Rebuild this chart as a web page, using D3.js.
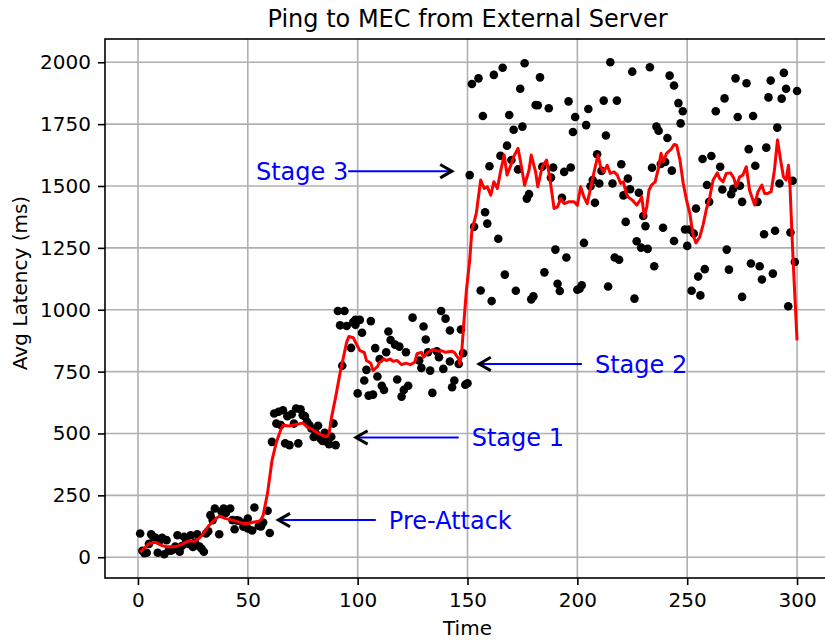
<!DOCTYPE html>
<html>
<head>
<meta charset="utf-8">
<script src="https://cdn.jsdelivr.net/npm/d3@7"></script>
<style>
  body { margin: 0; background: #fff; }
  svg { font-family: "DejaVu Sans", sans-serif; }
</style>
</head>
<body>
<div id="chart"></div>
<script>
// ping samples [time, avg latency ms]
const preAttack = [[1,96],[2,26],[3,16],[4,18],[5,54],[6,93],[7,82],[8,78],[9,18],[10,69],[11,78],[12,12],[13,69],[14,27],[15,26],[16,31],[17,43],[18,89],[19,22],[20,45],[21,82],[22,62],[23,54],[24,89],[25,41],[26,59],[27,93],[28,43],[29,34],[30,22],[31,96],[32,105],[33,170],[34,150],[35,197],[37,93],[38,185],[39,197],[40,179],[42,197],[43,150],[44,113],[45,149],[46,147],[48,123],[49,139],[50,156],[50,116],[52,108],[53,201],[55,126],[56,124],[57,140],[59,188],[60,98]];
const stage1 = [[61,466],[62,581],[63,540],[64,588],[65,534],[66,594],[67,460],[68,570],[69,453],[70,578],[71,540],[72,601],[73,460],[74,598],[75,574],[76,570],[77,547],[78,534],[79,520],[80,486],[81,500],[82,531],[83,480],[84,470],[85,503],[86,466],[87,457],[88,487],[89,540],[90,453]];
const stage2 = [[91,995],[92,937],[93,774],[94,995],[95,934],[97,846],[98,950],[99,939],[99,959],[100,662],[101,959],[102,907],[103,714],[104,757],[105,653],[106,954],[107,657],[108,845],[109,730],[110,801],[111,693],[112,676],[113,828],[114,912],[115,878],[117,859],[118,718],[119,851],[120,649],[121,676],[122,828],[123,693],[125,968],[128,795],[129,765],[130,932],[131,880],[132,828],[133,754],[134,664],[136,832],[137,808],[138,995],[139,761],[140,964],[142,791],[142,916],[143,687],[144,714],[146,781],[147,920],[148,824],[149,697],[150,703]];
const stage3 = [[151,1544],[152,1912],[153,1335],[155,1935],[156,1078],[157,1783],[158,1394],[159,1348],[160,1580],[161,1035],[162,1949],[164,1287],[165,1622],[166,1978],[167,1142],[168,1663],[169,1787],[170,1605],[171,1727],[172,1077],[173,1567],[174,1893],[175,1740],[176,1996],[177,1449],[178,1467],[179,1042],[180,1054],[181,1827],[182,1826],[183,1939],[184,1578],[185,1151],[187,1814],[188,1534],[189,1575],[190,1243],[191,1105],[192,1076],[193,1452],[194,1557],[195,1211],[196,1842],[197,1575],[198,1718],[199,1779],[200,1081],[201,1085],[202,1099],[203,1270],[204,1746],[205,1811],[206,1499],[207,1524],[208,1432],[209,1628],[210,1510],[211,1561],[212,1845],[213,1704],[214,1094],[215,2000],[216,1510],[217,1211],[218,1845],[219,1202],[220,1588],[221,1462],[222,1355],[223,1530],[224,1487],[225,1962],[226,1045],[227,1277],[228,1473],[229,1251],[230,1379],[231,1338],[232,1246],[233,1980],[234,1574],[235,1176],[236,1740],[237,1723],[238,1589],[239,1331],[240,1597],[241,1694],[242,1946],[243,1562],[244,1906],[244,1278],[246,1835],[247,1753],[248,1802],[249,1324],[250,1258],[251,1324],[252,1077],[253,1308],[254,1409],[255,1134],[256,1058],[257,1609],[258,1164],[259,1504],[260,1436],[261,1621],[263,1802],[265,1578],[266,1486],[267,1854],[268,1243],[269,1162],[270,1467],[271,1489],[272,1935],[273,1779],[274,1501],[275,1436],[275,1052],[277,1915],[278,1649],[279,1187],[280,1783],[281,1582],[282,1436],[283,1176],[284,1122],[285,1305],[286,1655],[287,1858],[288,1926],[289,1146],[290,1319],[291,1736],[292,1510],[293,1853],[294,1957],[295,1893],[296,1014],[297,1312],[298,1521],[299,1193],[300,1884]];

// red smoothed latency line [time, ms]
const smoothed = [[1,20],[3,38],[5,55],[8,60],[11,47],[13,42],[17,42],[20,52],[23,66],[26,64],[28,78],[30,98],[32,125],[35,152],[37,166],[40,156],[43,150],[46,142],[48,136],[50,136],[53,142],[55,145],[56,152],[57,170],[59,260],[61,390],[63,465],[65,515],[66,533],[69,530],[71,534],[73,538],[75,543],[77,527],[79,518],[82,500],[84,492],[86,487],[87,500],[88,560],[90,648],[92,745],[95,869],[96,892],[98,887],[99,869],[101,835],[103,828],[104,795],[106,784],[107,754],[109,770],[110,788],[112,801],[113,795],[115,801],[116,792],[118,795],[120,778],[122,784],[124,778],[126,788],[127,822],[129,828],[130,808],[132,828],[134,838],[137,832],[138,835],[140,828],[143,832],[144,828],[146,801],[146.5,781],[147.3,822],[148.3,943],[149.5,1078],[151,1200],[152,1321],[154,1389],[156,1524],[157.6,1490],[159,1497],[160.6,1463],[162,1517],[163.6,1490],[165,1557],[166.7,1625],[168,1544],[169.7,1584],[171,1618],[173,1652],[174,1605],[176,1503],[178,1564],[179,1625],[181,1557],[182,1497],[184,1578],[186,1605],[187.4,1537],[189.4,1409],[191,1416],[192.4,1449],[194,1429],[196,1436],[198.5,1436],[200,1422],[201.5,1497],[203,1456],[204.5,1429],[206.8,1524],[208.3,1584],[209.4,1625],[210.6,1578],[212,1557],[213.6,1584],[215,1551],[216.7,1557],[218.2,1544],[219.7,1510],[221,1517],[222,1477],[223,1456],[225,1443],[227,1423],[228.6,1443],[229.3,1456],[230.5,1375],[231.6,1416],[232.6,1483],[233.8,1504],[235.4,1517],[236.9,1571],[238.1,1632],[239.1,1598],[240.6,1632],[242.6,1648],[244.1,1668],[245.2,1665],[246.7,1605],[248.2,1510],[249.7,1443],[251.2,1389],[252.7,1301],[254,1270],[255.7,1294],[257.2,1342],[258.8,1409],[260.3,1456],[261.8,1524],[263.7,1553],[264.8,1530],[266.3,1517],[267.8,1551],[269.8,1553],[271.3,1530],[272.3,1497],[273.9,1537],[275.3,1544],[276.9,1578],[278.4,1483],[280.7,1423],[282.2,1477],[284,1504],[285.2,1470],[286.7,1470],[288.2,1477],[289.7,1564],[291.1,1686],[292.4,1611],[293.8,1537],[295,1524],[296.1,1584],[296.8,1497],[298,1241],[299.1,1038],[300,876]];

const xTicks = [0, 50, 100, 150, 200, 250, 300];
const yTicks = [0, 250, 500, 750, 1000, 1250, 1500, 1750, 2000];

// annotation label + arrow tip, both in data units (text y = baseline)
const annotations = [
  { label: "Stage 3", tip: [142.9, 1560], text: [53.7, 1525] },
  { label: "Stage 2", tip: [155.3, 781], text: [208, 745] },
  { label: "Stage 1", tip: [99.2, 484], text: [151.9, 449] },
  { label: "Pre-Attack", tip: [63.9, 150], text: [114.2, 115] },
];

const width = 825, height = 640;
const plot = { left: 105, right: 830, top: 39, bottom: 578 };

const x = d3.scaleLinear().domain([-15, 315]).range([plot.left, plot.right]);
const y = d3.scaleLinear().domain([-84, 2094]).range([plot.bottom, plot.top]);

const svg = d3.select("#chart").append("svg")
  .attr("width", width)
  .attr("height", height);

// grid
const grid = svg.append("g").attr("stroke", "#b0b0b0").attr("stroke-width", 1.6);
grid.selectAll(".gx").data(xTicks).join("line")
  .attr("x1", d => x(d)).attr("x2", d => x(d))
  .attr("y1", plot.top).attr("y2", plot.bottom);
grid.selectAll(".gy").data(yTicks).join("line")
  .attr("x1", plot.left).attr("x2", plot.right)
  .attr("y1", d => y(d)).attr("y2", d => y(d));

// axes
const xAxis = svg.append("g")
  .attr("transform", `translate(0,${plot.bottom})`)
  .call(d3.axisBottom(x).tickValues(xTicks).tickFormat(d3.format("d"))
    .tickSize(7).tickPadding(8).tickSizeOuter(0));
const yAxis = svg.append("g")
  .attr("transform", `translate(${plot.left},0)`)
  .call(d3.axisLeft(y).tickValues(yTicks).tickFormat(d3.format("d"))
    .tickSize(7).tickPadding(7).tickSizeOuter(0));

[xAxis, yAxis].forEach(ax => {
  ax.select(".domain").remove();
  ax.attr("font-family", "DejaVu Sans").attr("font-size", 20);
  ax.selectAll("line").attr("stroke", "#000").attr("stroke-width", 1.6);
  ax.selectAll("text").attr("fill", "#000");
});

// frame
svg.append("rect")
  .attr("x", plot.left).attr("y", plot.top)
  .attr("width", plot.right - plot.left).attr("height", plot.bottom - plot.top)
  .attr("fill", "none").attr("stroke", "#000").attr("stroke-width", 1.6);

// scatter
const pings = preAttack.concat(stage1, stage2, stage3);
svg.append("g")
  .selectAll("circle")
  .data(pings)
  .join("circle")
  .attr("cx", d => x(d[0]))
  .attr("cy", d => y(d[1]))
  .attr("r", 4.3)
  .attr("fill", "#000");

// smoothed line
svg.append("path")
  .datum(smoothed)
  .attr("fill", "none")
  .attr("stroke", "red")
  .attr("stroke-width", 3)
  .attr("stroke-linejoin", "round")
  .attr("d", d3.line().x(d => x(d[0])).y(d => y(d[1])));

// annotations
const notes = svg.append("g");
annotations.forEach(a => {
  const tx = x(a.text[0]), ty = y(a.text[1]);
  const px = x(a.tip[0]), py = y(a.tip[1]);
  const label = notes.append("text")
    .attr("x", tx).attr("y", ty)
    .attr("fill", "blue")
    .style("font-size", "24px")
    .text(a.label);
  const w = label.node().getComputedTextLength();
  const start = tx > px ? tx - 13 : tx + w;
  const dir = px > start ? 1 : -1;
  notes.append("line")
    .attr("x1", start).attr("y1", py)
    .attr("x2", px - dir * 2).attr("y2", py)
    .attr("stroke", "blue").attr("stroke-width", 2);
  notes.append("path")
    .attr("d", `M${px - dir * 11.7},${py - 6.7}L${px},${py}L${px - dir * 11.7},${py + 6.7}`)
    .attr("fill", "none").attr("stroke", "#000").attr("stroke-width", 3);
});

// title and axis labels
svg.append("text")
  .attr("x", (plot.left + plot.right) / 2)
  .attr("y", 27)
  .attr("text-anchor", "middle")
  .style("font-size", "24px")
  .text("Ping to MEC from External Server");

svg.append("text")
  .attr("x", (plot.left + plot.right) / 2)
  .attr("y", 635)
  .attr("text-anchor", "middle")
  .style("font-size", "20px")
  .text("Time");

svg.append("text")
  .attr("transform", `translate(27,${283}) rotate(-90)`)
  .attr("text-anchor", "middle")
  .style("font-size", "20px")
  .text("Avg Latency (ms)");
</script>
</body>
</html>
